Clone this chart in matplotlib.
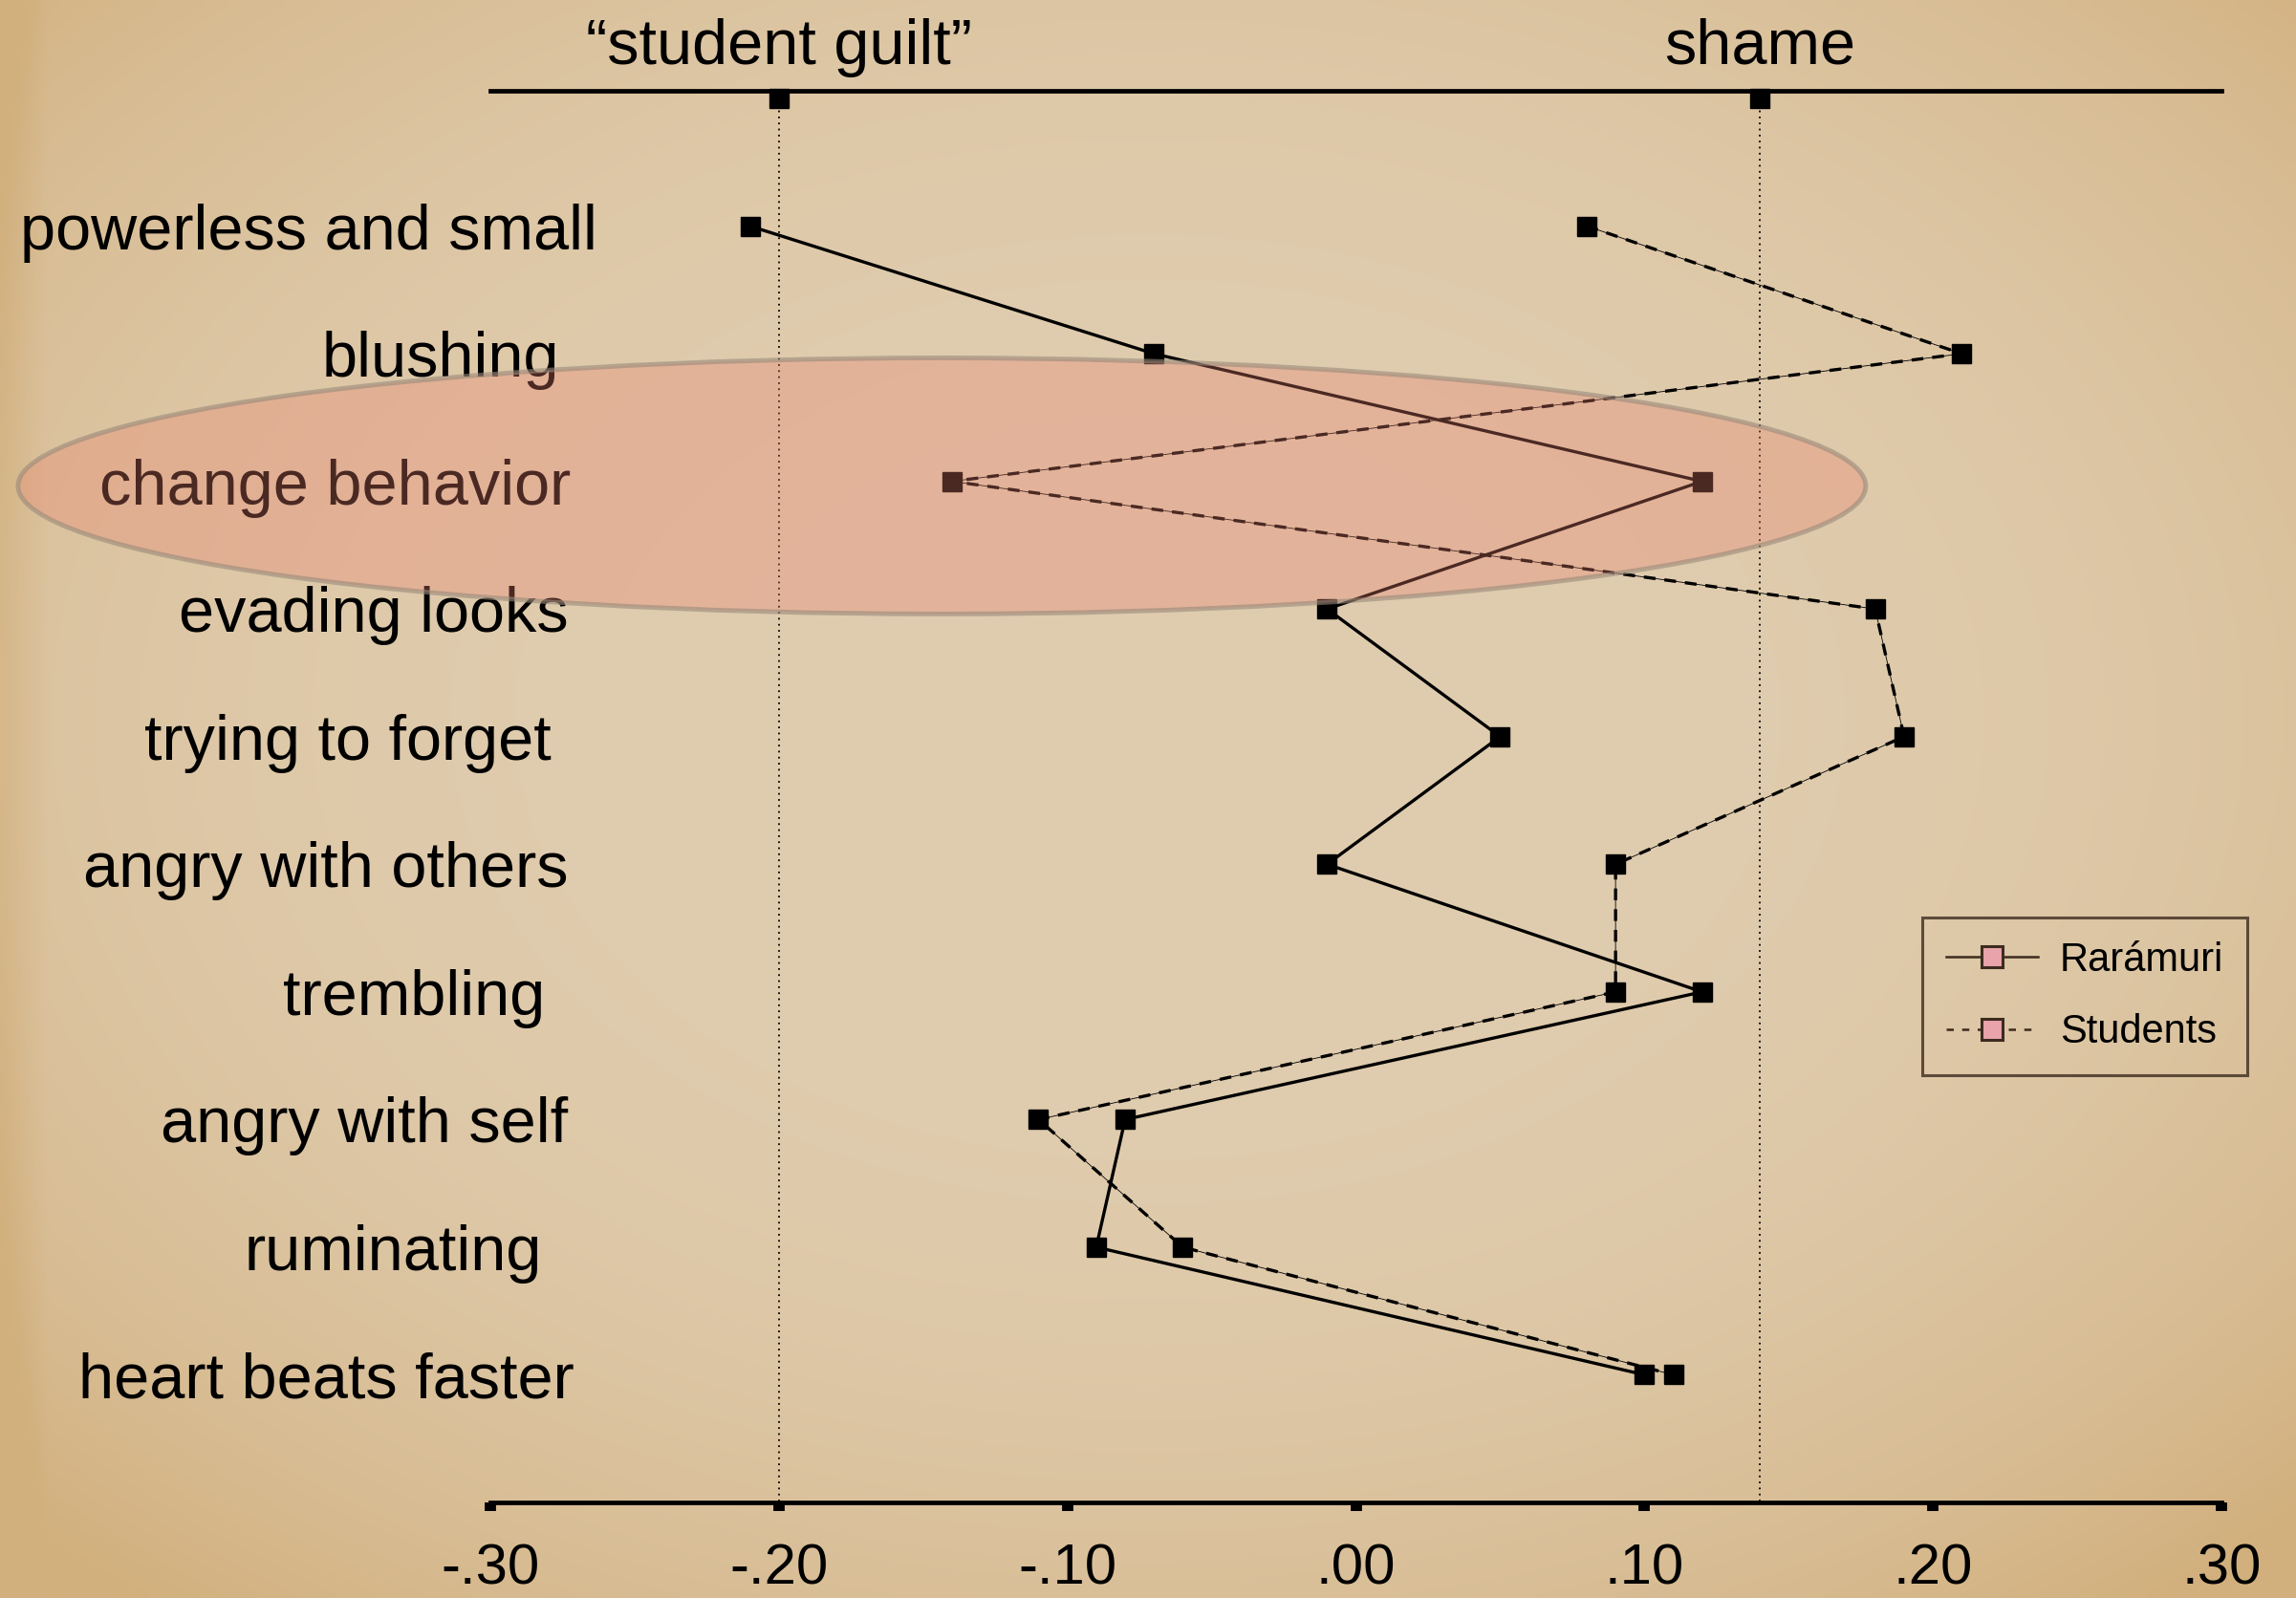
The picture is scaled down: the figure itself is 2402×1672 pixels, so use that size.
import numpy as np
import matplotlib.pyplot as plt
from matplotlib.patches import Ellipse
from matplotlib.lines import Line2D

plt.rcParams['font.family'] = ['Liberation Sans', 'DejaVu Sans']

# data
items = ['powerless and small', 'blushing', 'change behavior', 'evading looks',
         'trying to forget', 'angry with others', 'trembling', 'angry with self',
         'ruminating', 'heart beats faster']
raramuri = [-0.21, -0.07, 0.12, -0.01, 0.05, -0.01, 0.12, -0.08, -0.09, 0.10]
students = [0.08, 0.21, -0.14, 0.18, 0.19, 0.09, 0.09, -0.11, -0.06, 0.11]
series_names = ['Rarámuri', 'Students']
anchor_labels = ['\u201cstudent guilt\u201d', 'shame']
anchor_values = [-0.20, 0.14]
tick_values = [-0.30, -0.20, -0.10, 0.00, 0.10, 0.20, 0.30]
tick_labels = ['-.30', '-.20', '-.10', '.00', '.10', '.20', '.30']

# layout: right edge of each row label (x units), as on the slide
label_right = [-0.263, -0.276, -0.272, -0.273, -0.279, -0.273, -0.281, -0.273, -0.282, -0.271]

W, H = 2402, 1672
fig = plt.figure(figsize=(W / 100, H / 100), dpi=100)

# parchment-ish background
bg = fig.add_axes([0, 0, 1, 1], zorder=-10)
yy, xx = np.mgrid[0:1:200j, 0:1:300j]
d = np.sqrt(((xx - 0.5) / 0.5) ** 2 + ((yy - 0.45) / 0.5) ** 2) / np.sqrt(2)
t = np.clip(d, 0, 1) ** 3
t = np.clip(t + 0.4 * np.clip(1 - xx / 0.02, 0, 1), 0, 1)  # darker strip at left edge
c_mid = np.array([224, 205, 176]) / 255
c_edge = np.array([210, 176, 126]) / 255
bg.imshow(c_mid * (1 - t[..., None]) + c_edge * t[..., None], aspect='auto',
          extent=[0, 1, 0, 1], interpolation='bilinear')
bg.axis('off')

x0, x1 = 513 / W, 2324 / W
y_top, y_bot = 95, 1572
ax = fig.add_axes([x0, 1 - y_bot / H, x1 - x0, (y_bot - y_top) / H])
ax.patch.set_alpha(0)

rows = np.arange(len(items))
ax.set_xlim(-0.30, 0.30)
ax.set_ylim(10.0, -1.06)

# reference lines for the two anchors
ax.vlines(anchor_values, -1.0, 10.0, colors='black', linewidth=1.3,
          linestyles=(0, (1, 2.5)), zorder=1)
ax.plot(anchor_values, [-1.0] * len(anchor_values), 's', color='black',
        markersize=14.5, clip_on=False, zorder=4)
for lab, v in zip(anchor_labels, anchor_values):
    ax.text(v, -1.27, lab, ha='center', va='baseline', fontsize=48, clip_on=False)

# the two profiles
ax.plot(raramuri, rows, '-', color='black', linewidth=2.4, marker='s',
        markersize=14.5, zorder=3)
ax.plot(students, rows, color='black', linewidth=0.6, zorder=2)
ax.plot(students, rows, color='black', linewidth=2.4, dashes=(3.7, 2.8),
        marker='s', markersize=14.5, zorder=3)

for lab, r, xr in zip(items, rows, label_right):
    ax.text(xr, r + 0.18, lab, ha='right', va='baseline', fontsize=48, clip_on=False)

# highlight around "change behavior"
ell = Ellipse((-0.1435, 2.036), 0.6404, 2.006, facecolor=(0.92, 0.50, 0.43, 0.32),
              edgecolor=(0.60, 0.54, 0.48, 0.6), linewidth=3.5, clip_on=False, zorder=10)
ax.add_patch(ell)

for s in ['left', 'right']:
    ax.spines[s].set_visible(False)
for s in ['top', 'bottom']:
    ax.spines[s].set_linewidth(3.4)
    ax.spines[s].set_color('black')

ax.set_yticks([])
ax.set_xticks(tick_values)
ax.set_xticklabels(tick_labels, fontsize=43)
ax.tick_params(axis='x', direction='out', length=6.5, width=8.5, pad=24, color='black')

brown = '#3d2b1f'
pink = '#e9a3ab'
handles = [
    Line2D([], [], color=brown, linewidth=1.8, marker='s', markersize=16,
           markerfacecolor=pink, markeredgecolor=brown, markeredgewidth=2.2),
    Line2D([], [], color=brown, linewidth=1.8, dashes=(3, 3.5), marker='s', markersize=16,
           markerfacecolor=pink, markeredgecolor=brown, markeredgewidth=2.2),
]
leg = fig.legend(handles, series_names, loc='upper left',
                 bbox_to_anchor=(2011 / W, 1 - 960 / H), bbox_transform=fig.transFigure,
                 fontsize=30, handlelength=2.3, handletextpad=0.55, borderpad=0.6,
                 labelspacing=0.85, fancybox=False, edgecolor=brown, facecolor='none',
                 borderaxespad=0)
leg.get_frame().set_linewidth(2.2)

fig.savefig('out.png', dpi=100)
